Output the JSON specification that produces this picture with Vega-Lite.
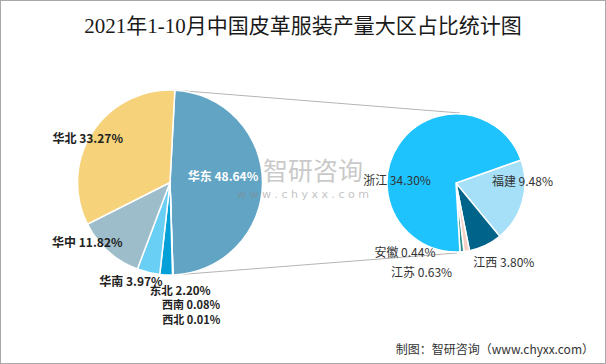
{
  "$schema": "https://vega.github.io/schema/vega-lite/v6.json",
  "width": 606,
  "height": 364,
  "autosize": {"type": "fit", "contains": "padding"},
  "padding": 0,
  "background": "white",
  "config": {"view": {"stroke": "#a8a8a8", "strokeWidth": 2}, "font": "Noto Sans CJK SC"},
  "datasets": {
    "left": [
      {"name": "华东", "value": 48.64, "idx": 1, "label": "华东 48.64%"},
      {"name": "西北", "value": 0.01, "idx": 2, "label": "西北 0.01%"},
      {"name": "西南", "value": 0.08, "idx": 3, "label": "西南 0.08%"},
      {"name": "东北", "value": 2.20, "idx": 4, "label": "东北 2.20%"},
      {"name": "华南", "value": 3.97, "idx": 5, "label": "华南 3.97%"},
      {"name": "华中", "value": 11.82, "idx": 6, "label": "华中 11.82%"},
      {"name": "华北", "value": 33.27, "idx": 7, "label": "华北 33.27%"}
    ],
    "right": [
      {"name": "福建", "value": 9.48, "idx": 1, "label": "福建 9.48%"},
      {"name": "江西", "value": 3.80, "idx": 2, "label": "江西 3.80%"},
      {"name": "江苏", "value": 0.63, "idx": 3, "label": "江苏 0.63%"},
      {"name": "安徽", "value": 0.44, "idx": 4, "label": "安徽 0.44%"},
      {"name": "浙江", "value": 34.30, "idx": 5, "label": "浙江 34.30%"}
    ],
    "notes": [{"title": "2021年1-10月中国皮革服装产量大区占比统计图", "source": "制图：智研咨询（www.chyxx.com）", "wm1": "智研咨询", "wm2": "w w w . c h y x x . c o m"}]
  },
  "resolve": {"scale": {"theta": "independent"}},
  "layer": [
    {
      "data": {"name": "notes"},
      "mark": {"type": "rule", "stroke": "#b4b4b4", "strokeWidth": 1},
      "encoding": {
        "x": {"datum": 173, "type": "quantitative", "scale": {"domain": [0, 606]}, "axis": null},
        "y": {"datum": 90, "type": "quantitative", "scale": {"domain": [0, 364], "reverse": true}, "axis": null},
        "x2": {"datum": 460},
        "y2": {"datum": 113}
      }
    },
    {
      "data": {"name": "notes"},
      "mark": {"type": "rule", "stroke": "#b4b4b4", "strokeWidth": 1},
      "encoding": {
        "x": {"datum": 174, "type": "quantitative", "scale": {"domain": [0, 606]}, "axis": null},
        "y": {"datum": 275, "type": "quantitative", "scale": {"domain": [0, 364], "reverse": true}, "axis": null},
        "x2": {"datum": 457},
        "y2": {"datum": 253}
      }
    },
    {
      "data": {"name": "left"},
      "mark": {"type": "arc", "outerRadius": 92.5, "stroke": "white", "strokeWidth": 1.5},
      "encoding": {
        "theta": {"field": "value", "type": "quantitative", "stack": true, "scale": {"domain": [0, 99.99], "range": [0.05236, 6.33555]}},
        "order": {"field": "idx", "type": "quantitative"},
        "color": {"field": "name", "type": "nominal", "legend": null, "scale": {"domain": ["华东","西北","西南","东北","华南","华中","华北","福建","江西","江苏","安徽","浙江"], "range": ["#61a4c4","#3d3d3d","#1f7fb0","#06a0d8","#69cff5","#9ebdcb","#f6d37b","#a5e0f8","#00638a","#f6cfc6","#2d8d8d","#1ec3fe"]}},
        "x": {"datum": 170, "type": "quantitative", "scale": {"domain": [0, 606]}, "axis": null},
        "y": {"datum": 182.5, "type": "quantitative", "scale": {"domain": [0, 364], "reverse": true}, "axis": null}
      }
    },
    {
      "data": {"name": "right"},
      "mark": {"type": "arc", "outerRadius": 69, "stroke": "white", "strokeWidth": 1.5},
      "encoding": {
        "theta": {"field": "value", "type": "quantitative", "stack": true, "scale": {"domain": [0, 48.65], "range": [1.23046, 7.51364]}},
        "order": {"field": "idx", "type": "quantitative"},
        "color": {"field": "name", "type": "nominal", "legend": null, "scale": {"domain": ["华东","西北","西南","东北","华南","华中","华北","福建","江西","江苏","安徽","浙江"], "range": ["#61a4c4","#3d3d3d","#1f7fb0","#06a0d8","#69cff5","#9ebdcb","#f6d37b","#a5e0f8","#00638a","#f6cfc6","#2d8d8d","#1ec3fe"]}},
        "x": {"datum": 456, "type": "quantitative", "scale": {"domain": [0, 606]}, "axis": null},
        "y": {"datum": 183, "type": "quantitative", "scale": {"domain": [0, 364], "reverse": true}, "axis": null}
      }
    },
    {
      "data": {"name": "notes"},
      "mark": {"type": "text", "fontSize": 25, "fill": "#8a8a8a", "opacity": 0.45, "align": "center", "baseline": "middle"},
      "encoding": {
        "text": {"field": "wm1"},
        "x": {"datum": 313, "type": "quantitative", "scale": {"domain": [0, 606]}, "axis": null},
        "y": {"datum": 172, "type": "quantitative", "scale": {"domain": [0, 364], "reverse": true}, "axis": null}
      }
    },
    {
      "data": {"name": "notes"},
      "mark": {"type": "text", "fontSize": 11, "fill": "#8a8a8a", "opacity": 0.5, "align": "center", "baseline": "middle", "font": "DejaVu Sans"},
      "encoding": {
        "text": {"field": "wm2"},
        "x": {"datum": 303, "type": "quantitative", "scale": {"domain": [0, 606]}, "axis": null},
        "y": {"datum": 195, "type": "quantitative", "scale": {"domain": [0, 364], "reverse": true}, "axis": null}
      }
    },
    {
      "data": {"name": "left"},
      "mark": {"type": "text", "radius": 53, "align": "center", "baseline": "middle", "dy": -6, "fontSize": 12, "fontWeight": "bold", "fill": "white"},
      "encoding": {
        "theta": {"field": "value", "type": "quantitative", "stack": true, "scale": {"domain": [0, 99.99], "range": [0.05236, 6.33555]}},
        "order": {"field": "idx", "type": "quantitative"},
        "text": {"condition": {"test": "datum.name === '华东'", "field": "label", "type": "nominal"}, "value": ""},
        "x": {"datum": 170, "type": "quantitative", "scale": {"domain": [0, 606]}, "axis": null},
        "y": {"datum": 182.5, "type": "quantitative", "scale": {"domain": [0, 364], "reverse": true}, "axis": null}
      }
    },
    {
      "data": {"name": "left"},
      "mark": {"type": "text", "radius": 80, "align": "right", "baseline": "middle", "dx": 20, "fontSize": 12, "fontWeight": "bold", "fill": "#222"},
      "encoding": {
        "theta": {"field": "value", "type": "quantitative", "stack": true, "scale": {"domain": [0, 99.99], "range": [0.05236, 6.33555]}},
        "order": {"field": "idx", "type": "quantitative"},
        "text": {"condition": {"test": "datum.name === '华北'", "field": "label", "type": "nominal"}, "value": ""},
        "x": {"datum": 170, "type": "quantitative", "scale": {"domain": [0, 606]}, "axis": null},
        "y": {"datum": 182.5, "type": "quantitative", "scale": {"domain": [0, 364], "reverse": true}, "axis": null}
      }
    },
    {
      "data": {"name": "left"},
      "mark": {"type": "text", "radius": 80, "align": "right", "baseline": "middle", "dx": 6, "dy": 1, "fontSize": 12, "fontWeight": "bold", "fill": "#222"},
      "encoding": {
        "theta": {"field": "value", "type": "quantitative", "stack": true, "scale": {"domain": [0, 99.99], "range": [0.05236, 6.33555]}},
        "order": {"field": "idx", "type": "quantitative"},
        "text": {"condition": {"test": "datum.name === '华中'", "field": "label", "type": "nominal"}, "value": ""},
        "x": {"datum": 170, "type": "quantitative", "scale": {"domain": [0, 606]}, "axis": null},
        "y": {"datum": 182.5, "type": "quantitative", "scale": {"domain": [0, 364], "reverse": true}, "axis": null}
      }
    },
    {
      "data": {"name": "left"},
      "mark": {"type": "text", "radius": 100, "align": "right", "baseline": "middle", "dx": 16, "dy": 2, "fontSize": 12, "fontWeight": "bold", "fill": "#222"},
      "encoding": {
        "theta": {"field": "value", "type": "quantitative", "stack": true, "scale": {"domain": [0, 99.99], "range": [0.05236, 6.33555]}},
        "order": {"field": "idx", "type": "quantitative"},
        "text": {"condition": {"test": "datum.name === '华南'", "field": "label", "type": "nominal"}, "value": ""},
        "x": {"datum": 170, "type": "quantitative", "scale": {"domain": [0, 606]}, "axis": null},
        "y": {"datum": 182.5, "type": "quantitative", "scale": {"domain": [0, 364], "reverse": true}, "axis": null}
      }
    },
    {
      "data": {"name": "left"},
      "mark": {"type": "text", "radius": 100, "align": "left", "baseline": "middle", "dx": -16, "dy": 10, "fontSize": 11.5, "fontWeight": "bold", "fill": "#222"},
      "encoding": {
        "theta": {"field": "value", "type": "quantitative", "stack": true, "scale": {"domain": [0, 99.99], "range": [0.05236, 6.33555]}},
        "order": {"field": "idx", "type": "quantitative"},
        "text": {"condition": {"test": "datum.name === '东北'", "field": "label", "type": "nominal"}, "value": ""},
        "x": {"datum": 170, "type": "quantitative", "scale": {"domain": [0, 606]}, "axis": null},
        "y": {"datum": 182.5, "type": "quantitative", "scale": {"domain": [0, 364], "reverse": true}, "axis": null}
      }
    },
    {
      "data": {"name": "left"},
      "mark": {"type": "text", "radius": 100, "align": "left", "baseline": "middle", "dx": -11, "dy": 24, "fontSize": 11, "fontWeight": "bold", "fill": "#222"},
      "encoding": {
        "theta": {"field": "value", "type": "quantitative", "stack": true, "scale": {"domain": [0, 99.99], "range": [0.05236, 6.33555]}},
        "order": {"field": "idx", "type": "quantitative"},
        "text": {"condition": {"test": "datum.name === '西南'", "field": "label", "type": "nominal"}, "value": ""},
        "x": {"datum": 170, "type": "quantitative", "scale": {"domain": [0, 606]}, "axis": null},
        "y": {"datum": 182.5, "type": "quantitative", "scale": {"domain": [0, 364], "reverse": true}, "axis": null}
      }
    },
    {
      "data": {"name": "left"},
      "mark": {"type": "text", "radius": 100, "align": "left", "baseline": "middle", "dx": -11, "dy": 39, "fontSize": 11, "fontWeight": "bold", "fill": "#222"},
      "encoding": {
        "theta": {"field": "value", "type": "quantitative", "stack": true, "scale": {"domain": [0, 99.99], "range": [0.05236, 6.33555]}},
        "order": {"field": "idx", "type": "quantitative"},
        "text": {"condition": {"test": "datum.name === '西北'", "field": "label", "type": "nominal"}, "value": ""},
        "x": {"datum": 170, "type": "quantitative", "scale": {"domain": [0, 606]}, "axis": null},
        "y": {"datum": 182.5, "type": "quantitative", "scale": {"domain": [0, 364], "reverse": true}, "axis": null}
      }
    },
    {
      "data": {"name": "right"},
      "mark": {"type": "text", "radius": 69, "align": "center", "baseline": "middle", "dy": -20, "fontSize": 12, "fill": "#333"},
      "encoding": {
        "theta": {"field": "value", "type": "quantitative", "stack": true, "scale": {"domain": [0, 48.65], "range": [1.23046, 7.51364]}},
        "order": {"field": "idx", "type": "quantitative"},
        "text": {"condition": {"test": "datum.name === '福建'", "field": "label", "type": "nominal"}, "value": ""},
        "x": {"datum": 456, "type": "quantitative", "scale": {"domain": [0, 606]}, "axis": null},
        "y": {"datum": 183, "type": "quantitative", "scale": {"domain": [0, 364], "reverse": true}, "axis": null}
      }
    },
    {
      "data": {"name": "right"},
      "mark": {"type": "text", "radius": 60, "align": "center", "baseline": "middle", "dx": -9, "dy": 31, "fontSize": 12, "fill": "#333"},
      "encoding": {
        "theta": {"field": "value", "type": "quantitative", "stack": true, "scale": {"domain": [0, 48.65], "range": [1.23046, 7.51364]}},
        "order": {"field": "idx", "type": "quantitative"},
        "text": {"condition": {"test": "datum.name === '浙江'", "field": "label", "type": "nominal"}, "value": ""},
        "x": {"datum": 456, "type": "quantitative", "scale": {"domain": [0, 606]}, "axis": null},
        "y": {"datum": 183, "type": "quantitative", "scale": {"domain": [0, 364], "reverse": true}, "axis": null}
      }
    },
    {
      "data": {"name": "right"},
      "mark": {"type": "text", "radius": 85, "align": "left", "baseline": "middle", "dx": -19, "dy": 3, "fontSize": 12, "fill": "#333"},
      "encoding": {
        "theta": {"field": "value", "type": "quantitative", "stack": true, "scale": {"domain": [0, 48.65], "range": [1.23046, 7.51364]}},
        "order": {"field": "idx", "type": "quantitative"},
        "text": {"condition": {"test": "datum.name === '江西'", "field": "label", "type": "nominal"}, "value": ""},
        "x": {"datum": 456, "type": "quantitative", "scale": {"domain": [0, 606]}, "axis": null},
        "y": {"datum": 183, "type": "quantitative", "scale": {"domain": [0, 364], "reverse": true}, "axis": null}
      }
    },
    {
      "data": {"name": "right"},
      "mark": {"type": "text", "radius": 85, "align": "right", "baseline": "middle", "dx": -17, "dy": 6, "fontSize": 12, "fill": "#333"},
      "encoding": {
        "theta": {"field": "value", "type": "quantitative", "stack": true, "scale": {"domain": [0, 48.65], "range": [1.23046, 7.51364]}},
        "order": {"field": "idx", "type": "quantitative"},
        "text": {"condition": {"test": "datum.name === '江苏'", "field": "label", "type": "nominal"}, "value": ""},
        "x": {"datum": 456, "type": "quantitative", "scale": {"domain": [0, 606]}, "axis": null},
        "y": {"datum": 183, "type": "quantitative", "scale": {"domain": [0, 364], "reverse": true}, "axis": null}
      }
    },
    {
      "data": {"name": "right"},
      "mark": {"type": "text", "radius": 75, "align": "right", "baseline": "middle", "dx": -27, "dy": -5, "fontSize": 12, "fill": "#333"},
      "encoding": {
        "theta": {"field": "value", "type": "quantitative", "stack": true, "scale": {"domain": [0, 48.65], "range": [1.23046, 7.51364]}},
        "order": {"field": "idx", "type": "quantitative"},
        "text": {"condition": {"test": "datum.name === '安徽'", "field": "label", "type": "nominal"}, "value": ""},
        "x": {"datum": 456, "type": "quantitative", "scale": {"domain": [0, 606]}, "axis": null},
        "y": {"datum": 183, "type": "quantitative", "scale": {"domain": [0, 364], "reverse": true}, "axis": null}
      }
    },
    {
      "data": {"name": "notes"},
      "mark": {"type": "text", "fontSize": 21, "fill": "#1a1a1a", "align": "center", "baseline": "middle", "font": "Liberation Serif, Noto Sans CJK SC"},
      "encoding": {
        "text": {"field": "title"},
        "x": {"datum": 303, "type": "quantitative", "scale": {"domain": [0, 606]}, "axis": null},
        "y": {"datum": 27, "type": "quantitative", "scale": {"domain": [0, 364], "reverse": true}, "axis": null}
      }
    },
    {
      "data": {"name": "notes"},
      "mark": {"type": "text", "fontSize": 12, "fill": "#333", "align": "right", "baseline": "middle"},
      "encoding": {
        "text": {"field": "source"},
        "x": {"datum": 594, "type": "quantitative", "scale": {"domain": [0, 606]}, "axis": null},
        "y": {"datum": 350, "type": "quantitative", "scale": {"domain": [0, 364], "reverse": true}, "axis": null}
      }
    }
  ]
}
